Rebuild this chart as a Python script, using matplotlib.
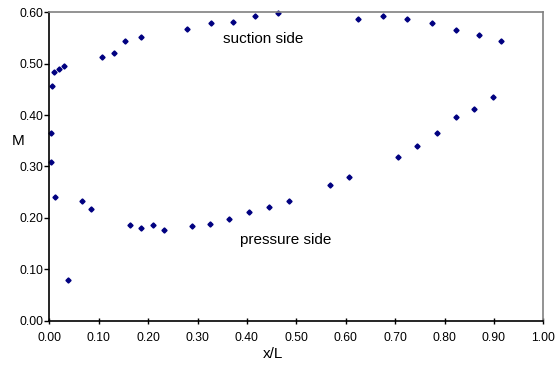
import matplotlib
matplotlib.use("Agg")
import matplotlib.pyplot as plt
from matplotlib.ticker import FormatStrFormatter

plt.rcParams['font.family'] = ['Liberation Sans', 'DejaVu Sans']

# suction side points (x/L, M)
suction_x = [0.005, 0.010, 0.020, 0.030, 0.107, 0.130, 0.154, 0.186, 0.279,
             0.327, 0.372, 0.416, 0.462, 0.624, 0.676, 0.725, 0.775, 0.823,
             0.869, 0.914]
suction_m = [0.457, 0.483, 0.489, 0.495, 0.513, 0.521, 0.544, 0.551, 0.567,
             0.580, 0.581, 0.592, 0.599, 0.586, 0.593, 0.587, 0.580, 0.566,
             0.556, 0.545]

# pressure side points
pressure_x = [0.004, 0.003, 0.011, 0.038, 0.066, 0.084, 0.163, 0.186, 0.209,
              0.233, 0.288, 0.325, 0.363, 0.404, 0.445, 0.486, 0.568, 0.607,
              0.706, 0.745, 0.784, 0.823, 0.860, 0.898]
pressure_m = [0.365, 0.309, 0.241, 0.079, 0.233, 0.217, 0.186, 0.180, 0.186,
              0.176, 0.184, 0.188, 0.198, 0.211, 0.221, 0.233, 0.264, 0.279,
              0.318, 0.339, 0.366, 0.396, 0.412, 0.436]

fig = plt.figure(figsize=(5.59, 3.65), dpi=100)
ax = fig.add_axes([0.0882, 0.1214, 0.8838, 0.8449])

ax.plot(suction_x, suction_m, 'D', color='#000080', markersize=2.6, clip_on=False)
ax.plot(pressure_x, pressure_m, 'D', color='#000080', markersize=2.6, clip_on=False)

ax.set_xlim(0, 1.0)
ax.set_ylim(0, 0.6)
ax.set_xticks([i / 10 for i in range(11)])
ax.set_yticks([i / 10 for i in range(7)])
ax.xaxis.set_major_formatter(FormatStrFormatter('%.2f'))
ax.yaxis.set_major_formatter(FormatStrFormatter('%.2f'))
ax.tick_params(axis='x', direction='inout', length=4, width=1, labelsize=8.7, pad=6)
ax.tick_params(axis='y', direction='out', length=3.5, width=1, labelsize=8.7, pad=0.5)

for s in ['left', 'bottom']:
    ax.spines[s].set_color('black')
    ax.spines[s].set_linewidth(1.2)
for s in ['top', 'right']:
    ax.spines[s].set_color('#808080')
    ax.spines[s].set_linewidth(1.2)

ax.set_xlabel('x/L', fontsize=11, va='center')
ax.xaxis.set_label_coords(0.452, -0.107)
ax.set_ylabel('M', fontsize=11, rotation=0, va='center', ha='center')
ax.yaxis.set_label_coords(-0.064, 0.584)

ax.text(0.352, 0.541, 'suction side', fontsize=11, va='baseline')
ax.text(0.385, 0.149, 'pressure side', fontsize=11, va='baseline')

fig.savefig('out.png', dpi=100)
